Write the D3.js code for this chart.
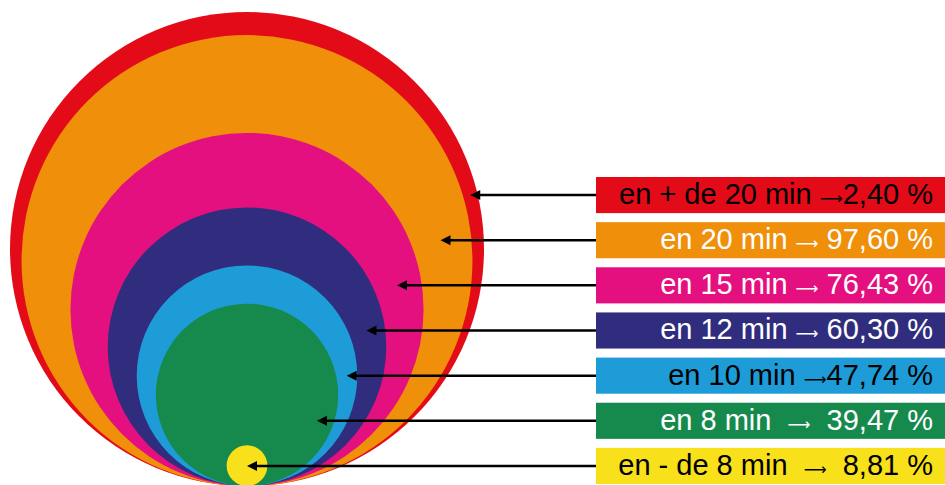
<!DOCTYPE html>
<html>
<head>
<meta charset="utf-8">
<script src="https://cdn.jsdelivr.net/npm/d3@7"></script>
<style>
  body { margin: 0; background: #fff; }
  svg { display: block; }
  text { font-family: "Liberation Sans", Arial, sans-serif; white-space: pre; }
</style>
</head>
<body>
<svg id="chart" width="945" height="485"></svg>
<script>
// data (share of people reached within x minutes)
const categories = ["en + de 20 min", "en 20 min", "en 15 min", "en 12 min", "en 10 min", "en 8 min", "en - de 8 min"];
const shares = [2.40, 97.60, 76.43, 60.30, 47.74, 39.47, 8.81];
const gapBefore = [" ", " ", " ", " ", " ", "  ", "  "];
const gapAfter = ["", " ", " ", " ", "", "  ", "  "];
const colors = ["#e30b17", "#ef8f0a", "#e5107f", "#312d7e", "#1d9cd8", "#168a4d", "#f8e01a"];
const textColors = ["#000", "#fff", "#fff", "#fff", "#000", "#fff", "#000"];

const width = 945, height = 485;
const cx = 247, baseY = 486;   // all circles touch this point
const rim = 6;                 // extra thickness of the outer red ring

const svg = d3.select("#chart");

// radius linear in the share
const rScale = d3.scaleLinear().domain([0, 100]).range([0, 231]);

const fmt = v => d3.format(".2f")(v).replace(".", ",") + " %";

const rows = categories.map((c, i) => {
  // the red circle stands for everyone: 97,60 + 2,40
  const v = i === 0 ? shares[0] + shares[1] : shares[i];
  const r = rScale(v) + (i === 0 ? rim : 0);
  return {name: c, share: shares[i], r: r, cy: baseY - r, i: i};
});

// 1 circles, largest first
svg.append("g").selectAll("circle")
  .data(rows)
  .join("circle")
  .attr("cx", cx)
  .attr("cy", d => d.cy)
  .attr("r", d => d.r)
  .attr("fill", d => colors[d.i]);

// 2 label boxes
const yScale = d3.scaleBand()
  .domain(categories)
  .range([177, 484])
  .paddingInner(0.2);

const boxX = 596;

function edge(d, y) {
  const dy = y - d.cy;
  if (Math.abs(dy) >= d.r) return null;
  return cx + Math.sqrt(d.r * d.r - dy * dy);
}

// 3 arrows
const arrows = svg.append("g");
rows.forEach((d, i) => {
  const y = yScale(d.name) + yScale.bandwidth() / 2;
  let tip;
  if (i === rows.length - 1) {
    tip = cx;
  } else {
    const outer = edge(d, y);
    const inner = edge(rows[i + 1], y);
    tip = inner !== null ? (outer + inner) / 2 : cx + (outer - cx) * 0.8;
  }
  arrows.append("line")
    .attr("x1", boxX).attr("x2", tip + 6)
    .attr("y1", y).attr("y2", y)
    .attr("stroke", "#000")
    .attr("stroke-width", 2.5);
  arrows.append("path")
    .attr("d", `M${tip},${y} L${tip + 10},${y - 5} L${tip + 10},${y + 5} Z`)
    .attr("fill", "#000");
});

const boxes = svg.append("g").selectAll("g")
  .data(rows)
  .join("g")
  .attr("transform", d => `translate(0,${yScale(d.name)})`);

boxes.append("rect")
  .attr("x", boxX)
  .attr("width", width - boxX)
  .attr("height", yScale.bandwidth())
  .attr("fill", d => colors[d.i]);

const label = boxes.append("text")
  .attr("x", 933)
  .attr("y", yScale.bandwidth() / 2 + 9)
  .attr("text-anchor", "end")
  .attr("font-size", 29)
  .attr("fill", d => textColors[d.i]);

label.append("tspan").text(d => d.name + gapBefore[d.i]);
label.append("tspan")
  .attr("font-family", "DejaVu Sans")
  .attr("font-size", 16)
  .text("⟶");
label.append("tspan").text(d => gapAfter[d.i] + fmt(d.share));
</script>
</body>
</html>
